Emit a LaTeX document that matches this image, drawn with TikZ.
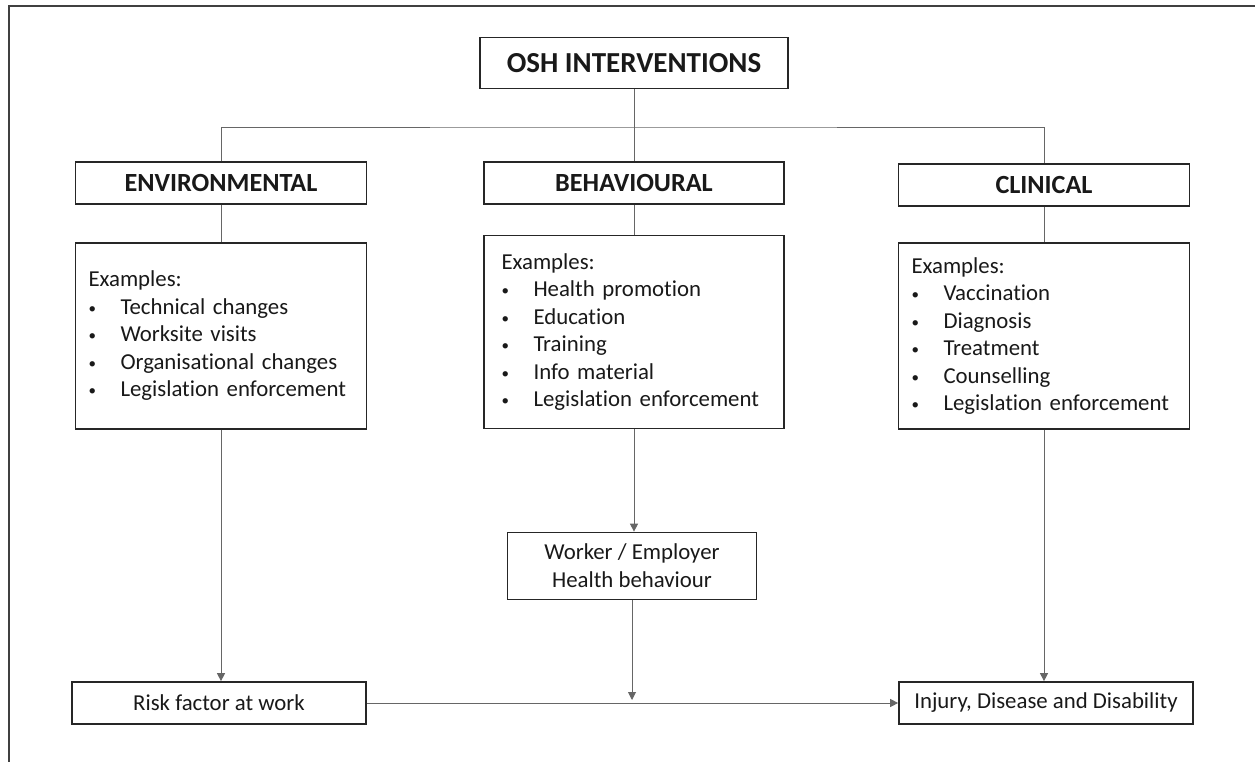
\documentclass[tikz,border=0pt]{standalone}
\usepackage{fontspec}
\setmainfont{Carlito}[Ligatures=NoCommon]
\usetikzlibrary{arrows.meta}

\newcommand{\exitem}{\makebox[32pt][l]{\raisebox{1pt}{\fontsize{15}{15}\selectfont\textbullet}}}

\begin{document}
\begin{tikzpicture}[x=1pt, y=-1pt, text=black!90]
    \tikzset{%
      box/.style={draw=black!85, line width=1.7pt, fill=white, inner sep=0pt,
        align=center, font=\fontsize{22.8}{28}\selectfont},
      headbox/.style={box, minimum width=291pt, minimum height=42pt,
        font=\fontsize{26.2}{30}\selectfont\bfseries},
      exbox/.style={box, minimum width=291pt, minimum height=186pt,
        text width=265pt, align=left, font=\fontsize{22.8}{27.5}\selectfont},
      link/.style={draw=black!60, line width=0.9pt},
      arr/.style={link, -{Triangle[length=8pt, width=8pt]}}
      }
    \useasboundingbox (0,0) rectangle (1255,762);
    \draw [line width=2.4pt, black!75] (9,762) -- (9,6) -- (1255,6);

    \node [box, minimum width=308pt, minimum height=51pt,
      font=\fontsize{29}{35}\selectfont\bfseries] (Oosh) at (634,63) {OSH INTERVENTIONS};

    \node [headbox] (Oenv) at (221,183) {ENVIRONMENTAL};
    \node [headbox, minimum width=300pt] (Obeh) at (634,183) {BEHAVIOURAL};
    \node [headbox] (Oclin) at (1044,185) {CLINICAL};

    \node [exbox] (Xenv) at (221,336) {Examples:\\
      \exitem Technical changes\\
      \exitem Worksite visits\\
      \exitem Organisational changes\\
      \exitem Legislation enforcement};
    \node [exbox, minimum width=300pt, minimum height=193pt] (Xbeh) at (634,332) {Examples:\\
      \exitem Health promotion\\
      \exitem Education\\
      \exitem Training\\
      \exitem Info material\\
      \exitem Legislation enforcement};
    \node [exbox] (Xclin) at (1044,336) {Examples:\\
      \exitem Vaccination\\
      \exitem Diagnosis\\
      \exitem Treatment\\
      \exitem Counselling\\
      \exitem Legislation enforcement};

    \node [box, minimum width=249pt, minimum height=67pt] (Wwork) at (632,566) {Worker / Employer\\Health behaviour};
    \node [box, minimum width=294pt, minimum height=42pt] (Rrisk) at (219,703) {Risk factor at work};
    \node [box, minimum width=294pt, minimum height=42pt] (Rinj) at (1046,703) {Injury, Disease and Disability};

    \coordinate (Split) at (634,127);
    \draw [link] (Oosh) -- (Obeh);
    \draw [link] (Oenv.north) |- (Split) -| (Oclin.north);
    \draw [link] (Oenv) -- (Xenv);
    \draw [link] (Obeh) -- (Xbeh);
    \draw [link] (Oclin) -- (Xclin);

    \draw [arr] (Xenv.south) -- (Xenv.south |- Rrisk.north);
    \draw [arr] (Xbeh.south) -- (Xbeh.south |- Wwork.north);
    \draw [arr] (Xclin.south) -- (Xclin.south |- Rinj.north);
    \draw [arr] (Rrisk) -- (Rinj);
    \coordinate (Meet) at (Wwork.south |- Rrisk.east);
    \draw [arr, shorten >=3pt] (Wwork) -- (Meet);

  \end{tikzpicture}
\end{document}
